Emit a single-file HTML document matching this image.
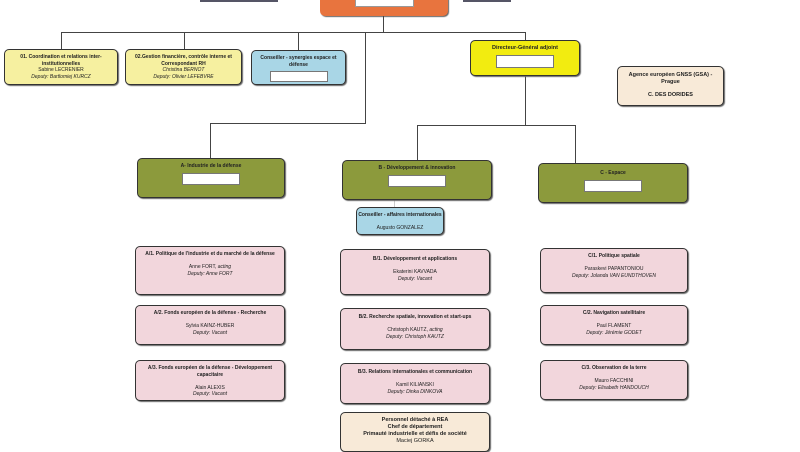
<!DOCTYPE html>
<html><head><meta charset="utf-8"><style>
body{margin:0;width:800px;height:445px;background:#fff;position:relative;overflow:hidden;font-family:"Liberation Sans",sans-serif;}
.b{position:absolute;box-sizing:border-box;border:1px solid #333;border-radius:5px;text-align:center;font-size:5px;line-height:6.5px;color:#222;padding-top:4px;box-shadow:1px 1px 1px #666;}
.l{position:absolute;background:#444;}
.w{display:block;margin:3px auto 0;background:#fff;border:1px solid #777;}
.y{background:#f6f0a0;}.bl{background:#a9d6e6;}.g{background:#8c9a3c;border-color:#333;}.p{background:#f2d6dc;}.c{background:#f8ead8;}
i{font-style:italic}b{font-weight:bold}
</style></head><body>
<div class="l" style="left:200px;top:0;width:78px;height:2px;background:#556"></div>
<div class="l" style="left:463px;top:0;width:48px;height:2px;background:#556"></div>
<div class="b" style="left:320px;top:-6px;width:128px;height:22px;background:#e8743e;border-color:#e8743e;padding:0"><div style="margin:0 auto;width:57px;height:10px;background:#fff;border:1px solid #999"></div></div>
<div class="l" style="left:383px;top:16px;width:1px;height:16px"></div>
<div class="l" style="left:61px;top:32px;width:464px;height:1px"></div>
<div class="l" style="left:61px;top:32px;width:1px;height:17px"></div>
<div class="l" style="left:184px;top:32px;width:1px;height:17px"></div>
<div class="l" style="left:298px;top:32px;width:1px;height:18px"></div>
<div class="l" style="left:525px;top:32px;width:1px;height:93px"></div>
<div class="l" style="left:365px;top:32px;width:1px;height:91px"></div>
<div class="l" style="left:210px;top:123px;width:156px;height:1px"></div>
<div class="l" style="left:210px;top:123px;width:1px;height:35px"></div>
<div class="l" style="left:417px;top:125px;width:158px;height:1px"></div>
<div class="l" style="left:417px;top:125px;width:1px;height:35px"></div>
<div class="l" style="left:575px;top:125px;width:1px;height:38px"></div>
<div class="l" style="left:394px;top:200px;width:1px;height:7px;background:#ccc"></div>

<div class="b y" style="left:4px;top:49px;width:114px;height:36px"><b>01. Coordination et relations inter-institutionnelles</b><br>Sabine LECRENIER<br><i>Deputy: Bartlomiej KURCZ</i></div>
<div class="b y" style="left:125px;top:49px;width:117px;height:36px"><b>02.Gestion financière, contrôle interne et Correspondant RH</b><br><i>Christina BERNOT</i><br><i>Deputy: Olivier LEFEBVRE</i></div>
<div class="b bl" style="left:251px;top:50px;width:95px;height:35px"><b>Conseiller - synergies espace et défense</b><span class="w" style="width:56px;height:9px"></span></div>
<div class="b" style="left:470px;top:40px;width:110px;height:36px;background:#f2ec10"><b style="font-size:5.5px">Directeur-Général adjoint</b><span class="w" style="width:56px;height:11px"></span></div>
<div class="b c" style="left:617px;top:66px;width:107px;height:40px;padding-top:5px;font-size:5.5px"><b>Agence européen GNSS (GSA) -<br>Prague<br><br>C. DES DORIDES</b></div>

<div class="b g" style="left:137px;top:158px;width:148px;height:40px"><b>A- Industrie de la défense</b><span class="w" style="width:56px;height:10px"></span></div>
<div class="b g" style="left:342px;top:160px;width:150px;height:40px"><b>B - Développement &amp; innovation</b><span class="w" style="width:56px;height:10px"></span></div>
<div class="b g" style="left:538px;top:163px;width:150px;height:40px;padding-top:6px"><b>C - Espace</b><span class="w" style="width:56px;height:10px"></span></div>
<div class="b bl" style="left:356px;top:207px;width:88px;height:28px"><b>Conseiller - affaires internationales</b><br><br>Augusto GONZALEZ</div>

<div class="b p" style="left:135px;top:246px;width:150px;height:49px"><b>A/1. Politique de l'industrie et du marché de la défense</b><br><br>Anne FORT, <i>acting</i><br><i>Deputy: Anne FORT</i></div>
<div class="b p" style="left:135px;top:305px;width:150px;height:40px"><b>A/2. Fonds européen de la défense - Recherche</b><br><br>Sylvia KAINZ-HUBER<br><i>Deputy: Vacant</i></div>
<div class="b p" style="left:135px;top:360px;width:150px;height:41px"><b>A/3. Fonds européen de la défense - Développement capacitaire</b><br><br>Alain ALEXIS<br><i>Deputy: Vacant</i></div>
<div class="b p" style="left:340px;top:249px;width:150px;height:46px;padding-top:6px"><b>B/1. Développement et applications</b><br><br>Ekaterini KAVVADA<br><i>Deputy: Vacant</i></div>
<div class="b p" style="left:340px;top:308px;width:150px;height:42px;padding-top:5px"><b>B/2. Recherche spatiale, innovation et start-ups</b><br><br>Christoph KAUTZ, <i>acting</i><br><i>Deputy: Christoph KAUTZ</i></div>
<div class="b p" style="left:340px;top:363px;width:150px;height:41px;padding-top:5px"><b>B/3. Relations internationales et communication</b><br><br>Kamil KILIANSKI<br><i>Deputy: Dinka DINKOVA</i></div>
<div class="b p" style="left:540px;top:248px;width:148px;height:45px"><b>C/1. Politique spatiale</b><br><br>Paraskevi PAPANTONIOU<br><i>Deputy: Jolanda VAN EUNDTHOVEN</i></div>
<div class="b p" style="left:540px;top:305px;width:148px;height:40px"><b>C/2. Navigation satellitaire</b><br><br>Paul FLAMENT<br><i>Deputy: Jérémie GODET</i></div>
<div class="b p" style="left:540px;top:360px;width:148px;height:40px"><b>C/3. Observation de la terre</b><br><br>Mauro FACCHINI<br><i>Deputy: Elisabeth HANDOUCH</i></div>
<div class="b c" style="left:340px;top:412px;width:150px;height:40px;font-size:5.5px;line-height:7px"><b>Personnel détaché à REA<br>Chef de département<br>Primauté industrielle et défis de société</b><br>Maciej GORKA</div>
</body></html>
